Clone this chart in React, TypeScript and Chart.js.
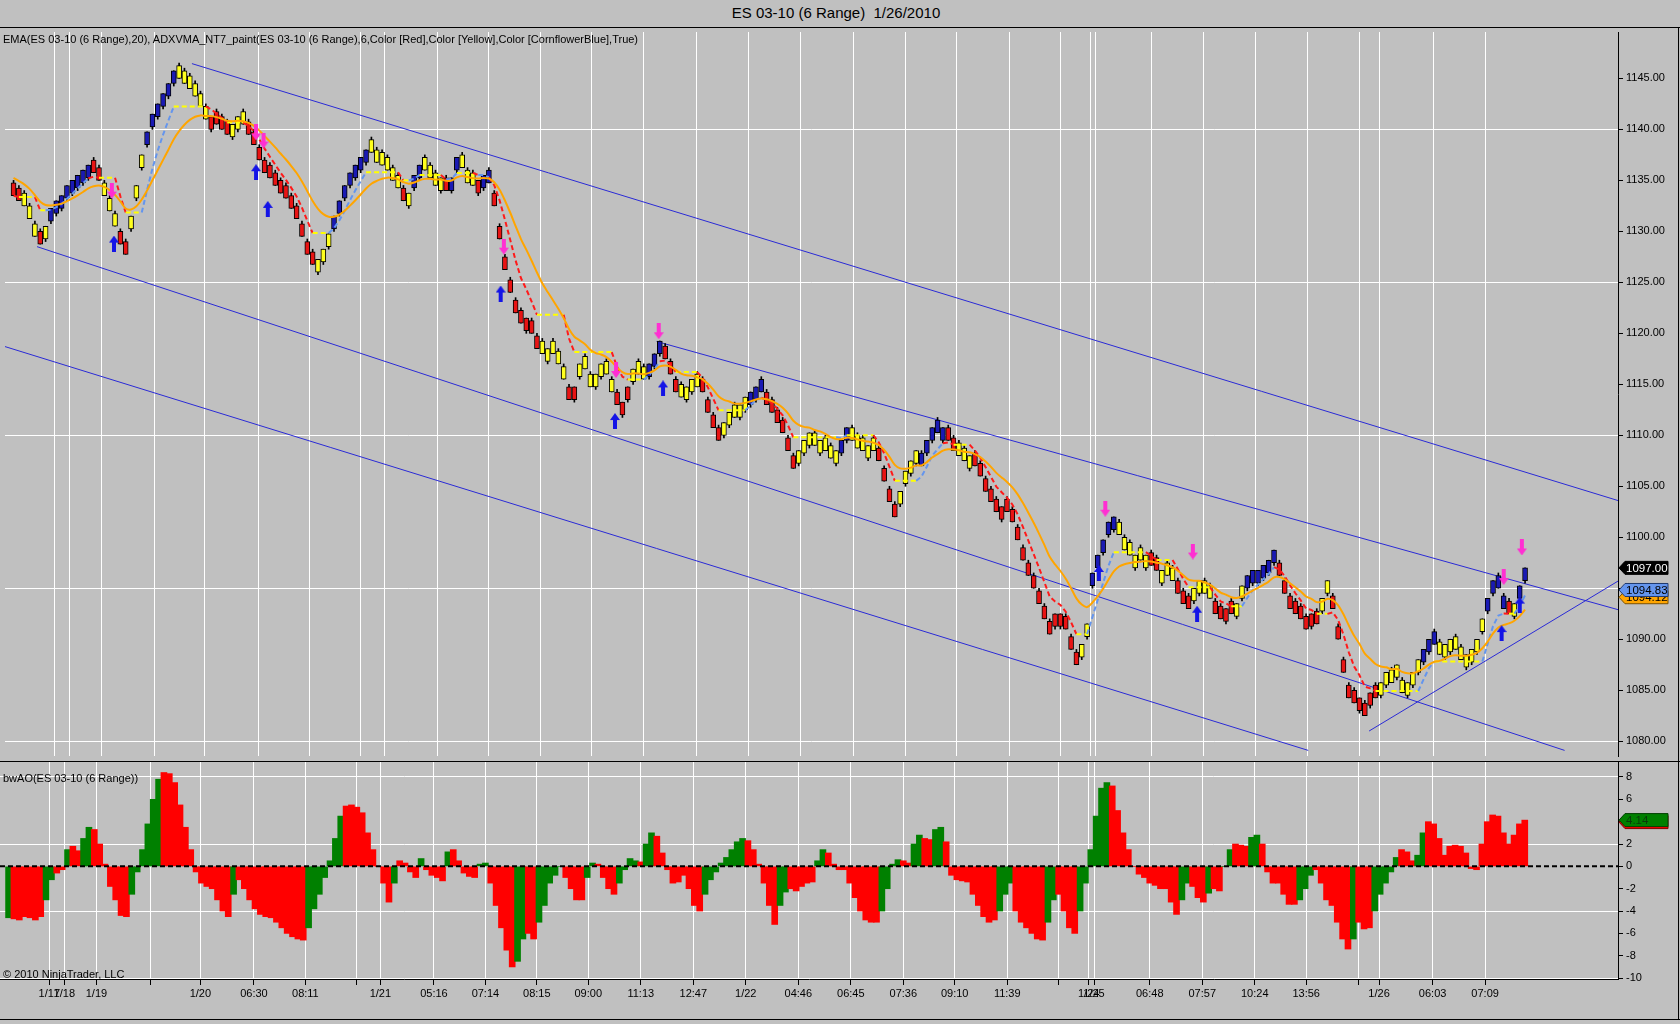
import { useEffect, useRef } from 'react';
import { Chart, registerables } from 'chart.js';

Chart.register(...registerables);
Chart.defaults.font.family = "'Liberation Sans', Arial, sans-serif";
Chart.defaults.font.size = 11;
Chart.defaults.color = '#000';

// ES 03-10, 6 tick range bars (1.5 pt per bar), close of each bar
const closes = [
  1133.5, 1133, 1132.5, 1131.25, 1129.5, 1128.75, 1130.5, 1132.25, 1133, 1133.5,
  1134.5, 1135, 1135.5, 1136, 1136.5, 1135.75, 1135, 1133.5, 1132, 1130.5,
  1128.75, 1127.75, 1131.5, 1134.5, 1137.5, 1139.75, 1141.5, 1142.5, 1143.5, 1144.5,
  1145.75, 1145, 1144.5, 1144, 1143.25, 1142.25, 1141, 1141.25, 1140.5, 1140,
  1139.5, 1140.5, 1141.25, 1140.5, 1139.5, 1138.5, 1137, 1135.75, 1135.25, 1134.5,
  1133.75, 1133.25, 1132.25, 1131.25, 1129.5, 1127.75, 1126.75, 1127.25, 1128.25, 1129.75,
  1131.5, 1133, 1134.5, 1135.75, 1136.5, 1137.25, 1138, 1137.75, 1136.75, 1136.5,
  1136, 1135, 1134.25, 1133, 1133.75, 1135.5, 1136.5, 1136, 1135.25, 1134.5,
  1135.25, 1134, 1135.25, 1137.25, 1136.25, 1134.75, 1134.5, 1135, 1135.5, 1134.75,
  1132.5, 1129.25, 1126.25, 1124, 1122, 1121, 1121.5, 1120, 1118.5, 1118,
  1118.5, 1118, 1117, 1115.5, 1113.5, 1114.75, 1117, 1116.5, 1114.75, 1116,
  1117, 1116, 1114.25, 1113, 1113.25, 1114.75, 1116.5, 1116, 1115.5, 1117,
  1118, 1119.25, 1117.5, 1116, 1114.25, 1113.75, 1114.75, 1115.5, 1114.75, 1114.25,
  1112.25, 1110.75, 1109.5, 1111.25, 1112.25, 1111.75, 1113, 1113.75, 1114.25, 1114.75,
  1114.25, 1113, 1112.25, 1111.25, 1110.25, 1108.5, 1106.75, 1108.5, 1109.5, 1110.25,
  1109, 1109.5, 1108.5, 1107.75, 1108.5, 1109.5, 1110.75, 1109.5, 1108.75, 1108.5,
  1109, 1108.5, 1107.5, 1105.5, 1103.5, 1102, 1104.5, 1106.5, 1107.5, 1108.5,
  1107, 1109.5, 1110.75, 1110.25, 1110.75, 1109.5, 1108.5, 1108, 1107.5, 1108,
  1107, 1106, 1104.5, 1103.5, 1102.5, 1103, 1102.5, 1101.5, 1099.75, 1097.75,
  1096.25, 1095, 1093.5, 1092, 1090.5, 1092.5, 1092.5, 1091, 1089, 1087.5,
  1089.5, 1091.5, 1096.5, 1098.25, 1099.75, 1101.5, 1102, 1100.25, 1098.75, 1098.25,
  1098.25, 1097.75, 1098.25, 1097.25, 1096.75, 1096.75, 1096.25, 1095.75, 1094.5, 1093.5,
  1093, 1095, 1095.75, 1094.5, 1094, 1092.5, 1092, 1093, 1092.5, 1093.5,
  1095.25, 1096.25, 1096.75, 1096.75, 1097.25, 1097.75, 1098.75, 1096.25, 1094.5, 1093,
  1092.5, 1092, 1091, 1092.5, 1091.5, 1094, 1095.75, 1093, 1090, 1086.75,
  1084.25, 1083.75, 1084.25, 1082.5, 1084.75, 1084.25, 1085.75, 1086.75, 1085.75, 1087.5,
  1084.75, 1085.75, 1086.75, 1088, 1089, 1090, 1089.5, 1088.5, 1089.5, 1090,
  1089, 1088, 1088.5, 1089, 1090, 1092, 1094, 1095.75, 1095, 1093,
  1092.5, 1093.5, 1095.25, 1097,
];
const firstOpen = 1134.25;
const BAR_RANGE = 1.5; // 6 ticks
const OPEN_INSIDE = 1.25; // a range bar opens one tick inside its range

// ADXVMA paint state per bar (R = red, Y = yellow, B = blue), as runs
const trendRuns: [string, number][] = [
  ['R', 2], ['Y', 3], ['R', 1], ['Y', 1], ['B', 8], ['R', 2], ['Y', 3], ['R', 2], ['Y', 3], ['B', 6],
  ['Y', 6], ['R', 4], ['Y', 3], ['R', 13], ['Y', 3], ['B', 7], ['Y', 6], ['R', 1], ['Y', 1], ['B', 2],
  ['Y', 4], ['R', 1], ['B', 2], ['Y', 3], ['R', 1], ['B', 2], ['R', 9], ['Y', 5], ['R', 2], ['Y', 7],
  ['R', 3], ['Y', 3], ['B', 3], ['R', 3], ['Y', 4], ['R', 4], ['Y', 5], ['B', 3], ['R', 6], ['Y', 8],
  ['B', 2], ['Y', 5], ['R', 4], ['Y', 4], ['B', 5], ['R', 2], ['Y', 3], ['R', 20], ['Y', 2], ['B', 5],
  ['Y', 6], ['R', 2], ['Y', 3], ['R', 3], ['Y', 4], ['R', 4], ['Y', 2], ['B', 6], ['R', 8], ['Y', 2],
  ['R', 9], ['Y', 8], ['B', 3], ['Y', 9], ['B', 4], ['R', 1], ['Y', 1], ['B', 2],
];

// bwAO histogram values and colours (G = green, R = red)
const aoValues = [
  -4.6, -4.7, -4.8, -4.5, -4.6, -4.8, -4.5, -3.0, -1.2, -0.6,
  -0.3, 1.5, 1.8, 1.4, 2.5, 3.5, 3.3, 2.0, 0.2, -1.8,
  -3.0, -4.4, -4.5, -2.5, -0.5, 1.5, 3.8, 6.0, 7.8, 8.4,
  8.3, 7.5, 5.5, 3.5, 1.5, -0.5, -1.5, -1.8, -2.0, -3.0,
  -4.0, -4.5, -2.5, -1.2, -2.0, -3.0, -3.8, -4.3, -4.5, -4.6,
  -5.0, -5.5, -6.0, -6.3, -6.5, -6.6, -5.5, -3.8, -2.5, -1.0,
  0.5, 2.5, 4.5, 5.4, 5.5, 5.3, 4.8, 3.0, 1.5, 0.0,
  -1.5, -3.2, -1.5, 0.5, 0.3, -0.5, -1.0, 0.7, -0.3, -0.8,
  -1.0, -1.3, 1.3, 1.5, 0.5, -0.6, -0.9, -1.0, 0.2, 0.3,
  -1.5, -3.5, -5.5, -7.5, -9.0, -8.5, -6.5, -6.0, -6.5, -5.0,
  -3.5, -1.5, -0.8, 0.0, -1.0, -2.0, -3.0, -3.0, -1.0, 0.3,
  0.2, -1.0, -2.0, -2.5, -1.5, -0.3, 0.7, 0.5, 0.4, 2.0,
  3.0, 2.7, 1.2, -0.3, -1.5, -1.4, -0.8, -2.0, -3.5, -4.0,
  -2.5, -1.2, -0.5, 0.3, 0.8, 1.5, 2.2, 2.5, 2.3, 1.5,
  0.2, -1.5, -3.5, -5.2, -3.5, -2.3, -2.0, -2.2, -1.8, -1.5,
  -1.4, 0.5, 1.5, 1.2, 0.2, -0.3, -0.3, -1.5, -2.8, -4.0,
  -4.8, -5.0, -5.0, -4.0, -2.0, 0.2, 0.6, 0.5, 0.3, 2.0,
  2.8, 2.5, 2.4, 3.3, 3.5, 2.2, -0.8, -1.2, -1.3, -1.4,
  -2.5, -3.5, -4.5, -5.0, -4.8, -4.0, -2.5, -1.5, -4.0, -5.0,
  -5.5, -6.0, -6.5, -6.6, -5.0, -3.0, -2.5, -4.0, -5.5, -6.0,
  -4.0, -1.5, 1.5, 4.5, 7.0, 7.5, 7.2, 5.0, 3.0, 1.5,
  0.0, -0.7, -1.0, -1.5, -1.7, -2.0, -2.0, -3.2, -4.3, -3.0,
  -1.5, -1.8, -2.8, -3.2, -2.4, -2.0, -2.2, 0.0, 1.5, 2.0,
  1.9, 1.8, 2.6, 2.8, 2.0, -0.5, -1.5, -1.5, -2.5, -3.4,
  -3.4, -3.0, -2.0, -0.8, -0.3, -1.5, -3.0, -3.5, -5.0, -6.5,
  -7.4, -6.5, -5.0, -5.6, -5.5, -4.0, -2.5, -1.5, -0.5, 0.8,
  1.5, 1.3, 0.5, 1.0, 3.0, 4.0, 3.8, 2.5, 1.0, 1.8,
  1.9, 1.8, 1.2, -0.2, -0.3, 2.0, 4.0, 4.6, 4.5, 3.0,
  2.0, 2.8, 3.8, 4.14,
];
const aoColorRuns: [string, number][] = [
  ['G', 1], ['R', 6], ['G', 2], ['R', 2], ['G', 1], ['R', 2], ['G', 2], ['R', 7], ['G', 6], ['R', 13],
  ['G', 1], ['R', 13], ['G', 7], ['R', 9], ['G', 1], ['R', 4], ['G', 1], ['R', 4], ['G', 1], ['R', 5],
  ['G', 2], ['R', 5], ['G', 2], ['R', 2], ['G', 5], ['R', 4], ['G', 2], ['R', 4], ['G', 4], ['R', 1],
  ['G', 2], ['R', 9], ['G', 8], ['R', 6], ['G', 2], ['R', 5], ['G', 2], ['R', 10], ['G', 4], ['R', 2],
  ['G', 2], ['R', 2], ['G', 2], ['R', 10], ['G', 3], ['R', 6], ['G', 2], ['R', 4], ['G', 6], ['R', 13],
  ['G', 2], ['R', 3], ['G', 1], ['R', 2], ['G', 2], ['R', 3], ['G', 2], ['R', 7], ['G', 3], ['R', 7],
  ['G', 1], ['R', 3], ['G', 5], ['R', 3], ['G', 2], ['R', 19],
];

// signal arrows: bar position, price
const downArrowX = [18.4, 45.4, 46.8, 91.8, 112.8, 120.8, 204.4, 220.8, 279, 282.4];
const downArrowY = [1134.0, 1139.7, 1138.9, 1128.5, 1116.4, 1120.2, 1102.8, 1098.6, 1096.1, 1099.0];
const upArrowX = [18.8, 45.4, 47.6, 91.2, 112.6, 121.6, 203.2, 221.6, 278.6, 282];
const upArrowY = [1128.8, 1135.8, 1132.2, 1123.9, 1111.4, 1114.6, 1096.5, 1092.5, 1090.6, 1093.4];

// hand drawn channel lines: x1, price1, x2, price2
const channelLines = [
  [33.4, 1146.45, 300.4, 1103.6],
  [120.4, 1119.2, 300.4, 1092.9],
  [4.4, 1128.5, 290.4, 1079.1],
  [-1.6, 1118.7, 242.4, 1079.1],
  [253.8, 1081.0, 300.4, 1095.7],
];

// time axis
const tickPos = [7.6, 10.4, 16.4, 26.4, 35.8, 45.8, 55.4, 65, 69.4, 79.4, 89, 98.6, 108.2, 118, 127.8, 137.6,
  147.4, 157.2, 167, 176.6, 186.4, 196, 201.6, 202.6, 213, 222.8, 232.6, 242.2, 252, 255.8, 265.8, 275.6];
const tickText = ['1/17', '1/18', '1/19', '', '1/20', '06:30', '08:11', '', '1/21', '05:16', '07:14', '08:15',
  '09:00', '11:13', '12:47', '1/22', '04:46', '06:45', '07:36', '09:10', '11:39', '', '1/24', '1/25',
  '06:48', '07:57', '10:24', '13:56', '', '1/26', '06:03', '07:09'];
const priceTicks = [1080, 1085, 1090, 1095, 1100, 1105, 1110, 1115, 1120, 1125, 1130, 1135, 1140, 1145];
const aoTicks = [-10, -8, -6, -4, -2, 0, 2, 4, 6, 8];

const lastPrice = 1097.0;
const adxvmaLast = 1094.83;
const emaLast = 1094.12;

const X_MIN = -1.6;
const X_MAX = 300.4;
const EMA_PERIOD = 14; // bars here are coarser than the source's, so 20 of theirs ~ 14 of ours
const emaSeed = 1135.5;
const ADX_ALPHA = 0.28;

const trendFill: Record<string, string> = { R: '#e81414', Y: '#ffff1e', B: '#1a1ab4' };
const adxLineColor: Record<string, string> = { R: '#ff1a1a', Y: '#ffff00', B: '#6495ed' };
const aoFill: Record<string, string> = { G: '#008000', R: '#ff0000' };

const expandRuns = (runs: [string, number][]) => runs.flatMap(([k, n]) => Array(n).fill(k) as string[]);

const noPad = (s: any) => {
  s.paddingTop = 0;
  s.paddingBottom = 0;
  s.paddingLeft = 0;
  s.paddingRight = 0;
};

const timeAxis = (labels: boolean): any => ({
  type: 'linear',
  min: X_MIN,
  max: X_MAX,
  bounds: 'data',
  offset: false,
  afterBuildTicks: (s: any) => {
    s.ticks = tickPos.map((v) => ({ value: v }));
  },
  afterFit: (s: any) => {
    s.height = labels ? 45 : 0;
    noPad(s);
  },
  grid: { color: '#ffffff', offset: false, drawTicks: labels, tickLength: 6, tickColor: '#000' },
  border: { display: labels, color: '#000' },
  ticks: {
    display: labels,
    autoSkip: false,
    maxRotation: 0,
    minRotation: 0,
    padding: 2,
    color: '#000',
    font: { size: 11 },
    callback: (_v: number, i: number) => tickText[i],
  },
});

function drawTag(ctx: CanvasRenderingContext2D, x: number, y: number, text: string, bg: string, fg: string, edge: string) {
  const h = 13;
  const w = 50;
  ctx.save();
  ctx.beginPath();
  ctx.moveTo(x + 1, y);
  ctx.lineTo(x + 7, y - h / 2);
  ctx.lineTo(x + w, y - h / 2);
  ctx.lineTo(x + w, y + h / 2);
  ctx.lineTo(x + 7, y + h / 2);
  ctx.closePath();
  ctx.fillStyle = bg;
  ctx.fill();
  ctx.strokeStyle = edge;
  ctx.lineWidth = 1;
  ctx.stroke();
  ctx.fillStyle = fg;
  ctx.font = "11.5px 'Liberation Sans', Arial, sans-serif";
  ctx.textBaseline = 'middle';
  ctx.textAlign = 'left';
  ctx.fillText(text, x + 8, y + 0.5);
  ctx.restore();
}

function makeArrow(color: string, down: boolean) {
  const c = document.createElement('canvas');
  c.width = 10;
  c.height = 16;
  const g = c.getContext('2d');
  if (!g) return c;
  g.fillStyle = color;
  g.beginPath();
  if (down) {
    g.moveTo(3, 0); g.lineTo(7, 0); g.lineTo(7, 9); g.lineTo(10, 9); g.lineTo(5, 16); g.lineTo(0, 9); g.lineTo(3, 9);
  } else {
    g.moveTo(3, 16); g.lineTo(7, 16); g.lineTo(7, 7); g.lineTo(10, 7); g.lineTo(5, 0); g.lineTo(0, 7); g.lineTo(3, 7);
  }
  g.closePath();
  g.fill();
  return c;
}

const PriceChart = () => {
  const chartRef = useRef<HTMLCanvasElement | null>(null);

  useEffect(() => {
    if (!chartRef.current) return;
    const ctx = chartRef.current.getContext('2d');
    if (!ctx) return;

    const trend = expandRuns(trendRuns);

    // range bars: close sits at the extreme of a BAR_RANGE bar, open one tick inside the other end
    const bars = closes.map((c, i) => {
      const prev = i === 0 ? firstOpen : closes[i - 1];
      const up = c >= prev;
      const high = up ? c : c + BAR_RANGE;
      const low = up ? c - BAR_RANGE : c;
      const open = up ? c - OPEN_INSIDE : c + OPEN_INSIDE;
      return { open, high, low, close: c };
    });

    const ema: number[] = [];
    let e = emaSeed;
    closes.forEach((c) => {
      e += (2 / (EMA_PERIOD + 1)) * (c - e);
      ema.push(e);
    });

    const adx: number[] = [];
    let a = closes[0];
    closes.forEach((c, i) => {
      if (trend[i] !== 'Y') a += ADX_ALPHA * (c - a);
      adx.push(a);
    });

    const tags = {
      id: 'priceTags',
      afterDraw(chart: any) {
        const y = chart.scales.y;
        const x0 = chart.chartArea.right;
        const c2 = chart.ctx;
        drawTag(c2, x0, y.getPixelForValue(emaLast), emaLast.toFixed(2), '#ffa500', '#000', '#7a5000');
        drawTag(c2, x0, y.getPixelForValue(adxvmaLast), adxvmaLast.toFixed(2), '#6495ed', '#000', '#203a70');
        drawTag(c2, x0, y.getPixelForValue(lastPrice), lastPrice.toFixed(2), '#000', '#fff', '#000');
      },
    };

    const datasets: any[] = [
      ...channelLines.map((l) => ({
        type: 'line',
        data: [{ x: l[0], y: l[1] }, { x: l[2], y: l[3] }],
        borderColor: '#2a2ad6',
        borderWidth: 1,
        pointRadius: 0,
        order: 7,
      })),
      {
        type: 'bar',
        data: bars.map((b, i) => ({ x: i, y: [b.low, b.high] })),
        backgroundColor: '#000',
        barThickness: 1,
        grouped: false,
        order: 6,
      },
      {
        type: 'bar',
        data: bars.map((b, i) => ({ x: i, y: [Math.min(b.open, b.close), Math.max(b.open, b.close)] })),
        backgroundColor: trend.map((t) => trendFill[t]),
        borderColor: '#000',
        borderWidth: 1,
        borderSkipped: false,
        barThickness: 5,
        grouped: false,
        order: 5,
      },
      {
        type: 'line',
        data: adx.map((v, i) => ({ x: i, y: v })),
        borderWidth: 2,
        borderDash: [5, 3],
        pointRadius: 0,
        segment: { borderColor: (c: any) => adxLineColor[trend[c.p1DataIndex]] },
        order: 3,
      },
      {
        type: 'line',
        data: ema.map((v, i) => ({ x: i, y: v })),
        borderColor: '#ffa500',
        borderWidth: 2,
        pointRadius: 0,
        tension: 0.3,
        order: 2,
      },
      {
        type: 'line',
        data: downArrowX.map((x, i) => ({ x, y: downArrowY[i] })),
        showLine: false,
        pointStyle: makeArrow('#ff2fd2', true),
        order: 0,
      },
      {
        type: 'line',
        data: upArrowX.map((x, i) => ({ x, y: upArrowY[i] })),
        showLine: false,
        pointStyle: makeArrow('#1414e6', false),
        order: 0,
      },
    ];

    const chart = new Chart(ctx, {
      type: 'bar',
      data: { datasets },
      options: {
        animation: false,
        responsive: true,
        maintainAspectRatio: false,
        layout: { padding: 0 },
        plugins: { legend: { display: false }, tooltip: { enabled: false } },
        scales: {
          x: timeAxis(false),
          y: {
            type: 'linear',
            position: 'right',
            min: 1078.55,
            max: 1149.55,
            bounds: 'data',
            afterBuildTicks: (s: any) => {
              s.ticks = priceTicks.map((v) => ({ value: v }));
            },
            afterFit: (s: any) => {
              s.width = 62;
              noPad(s);
            },
            grid: {
              color: (c: any) => (c.tick && c.tick.value % 15 === 0 ? '#ffffff' : 'rgba(0,0,0,0)'),
              tickColor: '#000',
              tickLength: 5,
            },
            border: { color: '#000' },
            ticks: { color: '#000', padding: 3, font: { size: 11 }, callback: (v: any) => Number(v).toFixed(2) },
          },
        },
      } as any,
      plugins: [tags],
    } as any);

    return () => chart.destroy();
  }, []);

  return <canvas ref={chartRef} />;
};

const AoChart = () => {
  const chartRef = useRef<HTMLCanvasElement | null>(null);

  useEffect(() => {
    if (!chartRef.current) return;
    const ctx = chartRef.current.getContext('2d');
    if (!ctx) return;

    const aoColors = expandRuns(aoColorRuns);
    const last = aoValues[aoValues.length - 1];

    const tags = {
      id: 'aoTag',
      afterDraw(chart: any) {
        const y = chart.scales.y.getPixelForValue(last);
        const x0 = chart.chartArea.right;
        drawTag(chart.ctx, x0, y + 2, '', '#ff0000', '#000', '#800000');
        drawTag(chart.ctx, x0, y, last.toFixed(2), '#008000', '#0a3a0a', '#004000');
      },
    };

    const chart = new Chart(ctx, {
      type: 'bar',
      data: {
        datasets: [
          {
            type: 'bar',
            data: aoValues.map((v, i) => ({ x: i, y: v })),
            backgroundColor: aoColors.map((k) => aoFill[k]),
            borderWidth: 0,
            barThickness: 6,
            grouped: false,
            order: 2,
          },
          {
            type: 'line',
            data: [{ x: X_MIN, y: 0 }, { x: X_MAX, y: 0 }],
            borderColor: '#000',
            borderWidth: 2,
            borderDash: [5, 3],
            pointRadius: 0,
            order: 0,
          },
        ] as any,
      },
      options: {
        animation: false,
        responsive: true,
        maintainAspectRatio: false,
        layout: { padding: 0 },
        plugins: { legend: { display: false }, tooltip: { enabled: false } },
        scales: {
          x: timeAxis(true),
          y: {
            type: 'linear',
            position: 'right',
            min: -10.08,
            max: 9.43,
            bounds: 'data',
            afterBuildTicks: (s: any) => {
              s.ticks = aoTicks.map((v) => ({ value: v }));
            },
            afterFit: (s: any) => {
              s.width = 62;
              noPad(s);
            },
            grid: {
              color: (c: any) => (c.tick && (c.tick.value - 8) % 6 === 0 ? '#ffffff' : 'rgba(0,0,0,0)'),
              tickColor: '#000',
              tickLength: 5,
            },
            border: { color: '#000' },
            ticks: { color: '#000', padding: 3, font: { size: 11 } },
          },
        },
      } as any,
      plugins: [tags],
    } as any);

    return () => chart.destroy();
  }, []);

  return <canvas ref={chartRef} />;
};

const textStyle: any = {
  position: 'absolute',
  fontFamily: "'Liberation Sans', Arial, sans-serif",
  color: '#000',
  whiteSpace: 'pre',
  zIndex: 2,
};

const line = (left: number, top: number, width: number, height: number): any => ({
  position: 'absolute',
  left,
  top,
  width,
  height,
  background: '#000',
  zIndex: 3,
});

export default function App() {
  return (
    <div
      style={{
        position: 'fixed',
        left: 0,
        top: 0,
        width: 1680,
        height: 1024,
        background: '#c0c0c0',
        overflow: 'hidden',
      }}
    >
      <div style={{ ...textStyle, left: 0, top: 4, width: 1672, textAlign: 'center', fontSize: 15, lineHeight: '18px' }}>
        {'ES 03-10 (6 Range)  1/26/2010'}
      </div>
      <div style={{ position: 'absolute', left: 0, top: 27, width: 1680, height: 734 }}>
        <PriceChart />
      </div>
      <div style={{ position: 'absolute', left: 0, top: 761, width: 1680, height: 263 }}>
        <AoChart />
      </div>
      <div style={{ ...textStyle, left: 3, top: 32, fontSize: 11, lineHeight: '14px' }}>
        {'EMA(ES 03-10 (6 Range),20), ADXVMA_NT7_paint(ES 03-10 (6 Range),6,Color [Red],Color [Yellow],Color [CornflowerBlue],True)'}
      </div>
      <div style={{ ...textStyle, left: 3, top: 771, fontSize: 11, lineHeight: '14px' }}>{'bwAO(ES 03-10 (6 Range))'}</div>
      <div style={{ ...textStyle, left: 3, top: 967, fontSize: 11, lineHeight: '14px' }}>{'© 2010 NinjaTrader, LLC'}</div>
      <div style={line(0, 27, 1680, 1)} />
      <div style={line(0, 761, 1680, 1)} />
      <div style={line(1678, 27, 1, 993)} />
      <div style={line(0, 1019, 1680, 1)} />
    </div>
  );
}
